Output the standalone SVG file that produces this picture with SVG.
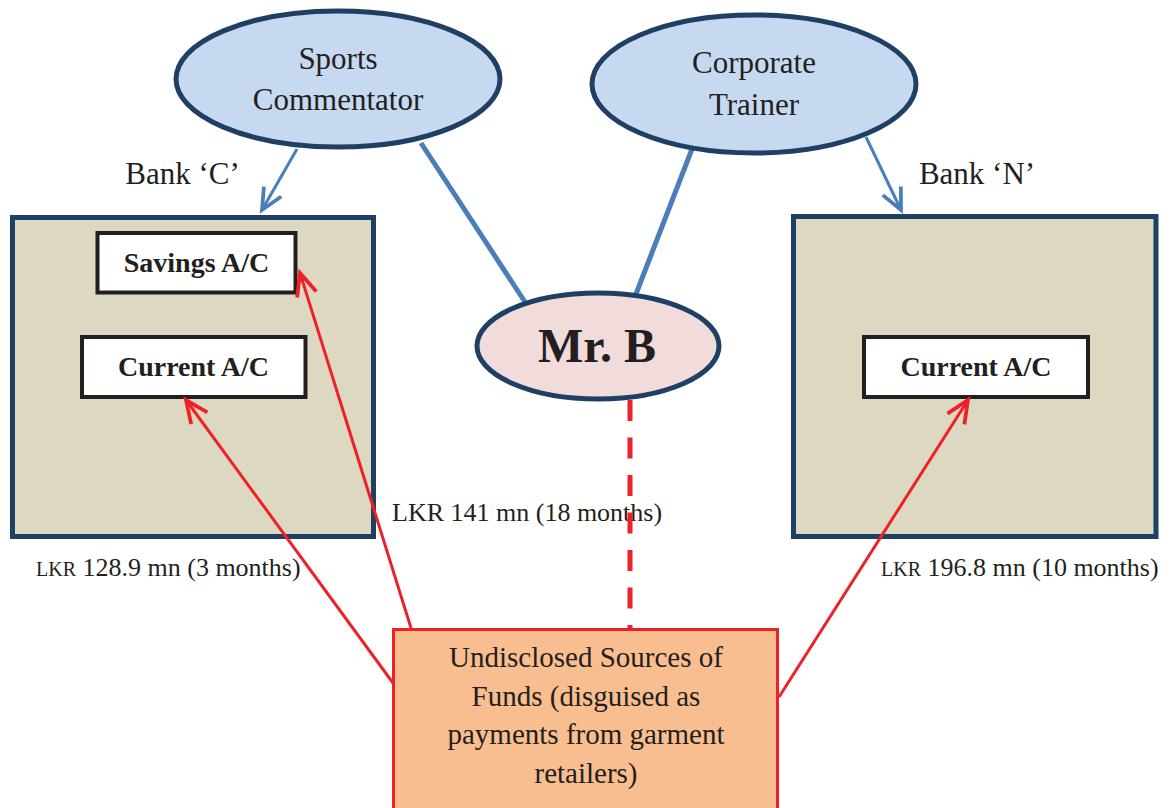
<svg xmlns="http://www.w3.org/2000/svg" width="1173" height="808" viewBox="0 0 1173 808">
  <style>
    text { font-family: "Liberation Serif", "Times New Roman", serif; fill: #231F20; }
    .role { fill: #C6D9F0; stroke: #1F3F64; stroke-width: 5; }
    .person { fill: #F2DBDB; stroke: #1F3F64; stroke-width: 5; }
    .bank { fill: #DDD8C2; stroke: #1F3F64; stroke-width: 5; }
    .acct { fill: #FFFFFF; stroke: #231F20; stroke-width: 4; }
    .source { fill: #F9BE8F; stroke: #EE2028; stroke-width: 3; }
    .big { font-size: 31px; text-anchor: middle; }
    .acct-label { font-size: 28px; font-weight: bold; text-anchor: middle; }
    .src-label { font-size: 29px; text-anchor: middle; }
    .amount { font-size: 26px; }
    .sc { font-size: 20px; }
    .link-thick { stroke: #4A7EBB; stroke-width: 5; fill: none; }
    .link-thin { stroke: #4A7EBB; stroke-width: 3; fill: none; }
    .flow { stroke: #EE2028; stroke-width: 3; fill: none; }
    .tie { stroke: #EE2028; stroke-width: 5; fill: none; stroke-dasharray: 21 16.5; }
  </style>
  <defs>
    <marker id="arrow-blue" markerUnits="userSpaceOnUse" markerWidth="30" markerHeight="30" viewBox="-20 -12 24 24" refX="0" refY="0" orient="auto">
      <path d="M-17,-8 L0,0 L-17,8" fill="none" stroke="#4A7EBB" stroke-width="3"/>
    </marker>
    <marker id="arrow-red" markerUnits="userSpaceOnUse" markerWidth="30" markerHeight="30" viewBox="-20 -12 24 24" refX="0" refY="0" orient="auto">
      <path d="M-18,-8 L0,0 L-18,8" fill="none" stroke="#EE2028" stroke-width="3"/>
    </marker>
  </defs>

  <!-- Bank boxes -->
  <g id="bank-c">
    <rect class="bank" x="12.5" y="217.5" width="361" height="319"/>
  </g>
  <g id="bank-n">
    <rect class="bank" x="793.5" y="216.5" width="362.5" height="320"/>
  </g>

  <!-- Accounts -->
  <g id="savings-c">
    <rect class="acct" x="97.5" y="233" width="198" height="59.5"/>
    <text class="acct-label" x="196.5" y="272">Savings A/C</text>
  </g>
  <g id="current-c">
    <rect class="acct" x="82" y="337" width="223.5" height="60"/>
    <text class="acct-label" x="193.5" y="376">Current A/C</text>
  </g>
  <g id="current-n">
    <rect class="acct" x="864" y="337" width="224" height="60"/>
    <text class="acct-label" x="976" y="376">Current A/C</text>
  </g>

  <!-- Amount labels -->
  <g id="amount-savings">
    <text class="amount" x="392" y="521">LKR 141 mn (18 months)</text>
  </g>
  <g id="amount-current-c">
    <text class="amount" x="36" y="576"><tspan class="sc">LKR</tspan> 128.9 mn (3 months)</text>
  </g>
  <g id="amount-current-n">
    <text class="amount" x="881" y="576"><tspan class="sc">LKR</tspan> 196.8 mn (10 months)</text>
  </g>

  <!-- Bank labels -->
  <g id="label-bank-c">
    <text class="big" x="182.5" y="184">Bank ‘C’</text>
  </g>
  <g id="label-bank-n">
    <text class="big" x="977" y="184">Bank ‘N’</text>
  </g>

  <!-- Connectors -->
  <g id="connectors">
    <line class="link-thin" x1="297" y1="149" x2="262" y2="210" marker-end="url(#arrow-blue)"/>
    <line class="link-thin" x1="866" y1="137" x2="901" y2="210" marker-end="url(#arrow-blue)"/>
    <line class="link-thick" x1="421" y1="143" x2="525" y2="302"/>
    <line class="link-thick" x1="692" y1="149" x2="636" y2="294"/>
    <line class="tie" x1="630" y1="400" x2="630" y2="629"/>
    <line class="flow" x1="411" y1="628" x2="300" y2="273" marker-end="url(#arrow-red)"/>
    <line class="flow" x1="393" y1="683" x2="186" y2="400" marker-end="url(#arrow-red)"/>
    <line class="flow" x1="779" y1="697" x2="968" y2="400" marker-end="url(#arrow-red)"/>
  </g>

  <!-- Roles -->
  <g id="sports-commentator">
    <ellipse class="role" cx="338" cy="79" rx="162" ry="68"/>
    <text class="big" x="338" y="69">Sports</text>
    <text class="big" x="338" y="110">Commentator</text>
  </g>
  <g id="corporate-trainer">
    <ellipse class="role" cx="754" cy="84" rx="162" ry="69"/>
    <text class="big" x="754" y="73">Corporate</text>
    <text class="big" x="754" y="115">Trainer</text>
  </g>

  <!-- Account holder -->
  <g id="mr-b">
    <ellipse class="person" cx="598" cy="346" rx="121" ry="53"/>
    <text x="597" y="362" font-size="48" font-weight="bold" text-anchor="middle">Mr. B</text>
  </g>

  <!-- Source of funds -->
  <g id="undisclosed-sources">
    <rect class="source" x="393.5" y="629.5" width="384" height="200"/>
    <text class="src-label" x="586" y="667">Undisclosed Sources of</text>
    <text class="src-label" x="586" y="706">Funds (disguised as</text>
    <text class="src-label" x="586" y="744">payments from garment</text>
    <text class="src-label" x="586" y="783">retailers)</text>
  </g>
</svg>
